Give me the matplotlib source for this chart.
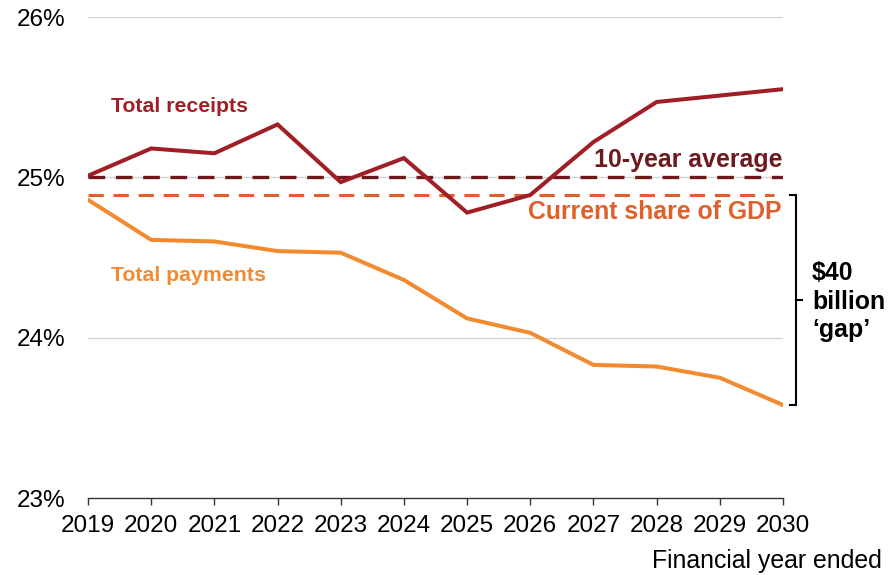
import matplotlib
matplotlib.use("Agg")
import matplotlib.pyplot as plt

plt.rcParams['font.family'] = ['Liberation Sans', 'DejaVu Sans']

years = [2019, 2020, 2021, 2022, 2023, 2024, 2025, 2026, 2027, 2028, 2029, 2030]
receipts = [25.01, 25.18, 25.15, 25.33, 24.97, 25.12, 24.78, 24.89, 25.22, 25.47, 25.51, 25.55]
payments = [24.86, 24.61, 24.60, 24.54, 24.53, 24.36, 24.12, 24.03, 23.83, 23.82, 23.75, 23.58]
ten_year_avg = 25.0
current_share = 24.89
yticks = [23, 24, 25, 26]
ytick_labels = ["23%", "24%", "25%", "26%"]

c_receipts = "#a01f26"
c_avg = "#6e1a1c"
c_share = "#e0602c"
c_pay = "#f28b30"

fig = plt.figure(figsize=(8.88, 5.75), dpi=100)
ax = fig.add_axes([88/888, 1-498/575, (783-88)/888, (498-17)/575])

ax.set_xlim(years[0], years[-1])
ax.set_ylim(23, 26)

for y in yticks[1:]:
    ax.axhline(y, color="#d4d4d4", lw=1.0, zorder=1)

ax.plot([years[0], years[-1]], [ten_year_avg]*2, color=c_avg, lw=2.4,
        dashes=(5, 3.2), zorder=2)
ax.plot([years[0], years[-1] - 0.15], [current_share]*2, color=c_share, lw=2.2,
        dashes=(5, 3.2), zorder=2)
ax.plot(years, receipts, color=c_receipts, lw=2.9, zorder=3, solid_joinstyle='miter')
ax.plot(years, payments, color=c_pay, lw=2.9, zorder=3, solid_joinstyle='miter')

ax.text(2019.37, 25.44, "Total receipts", color=c_receipts, fontsize=15.3,
        fontweight='bold', va='center', ha='left')
ax.text(2019.37, 24.385, "Total payments", color=c_pay, fontsize=15.3,
        fontweight='bold', va='center', ha='left')
ax.text(2030, 25.105, "10-year average", color=c_avg, fontsize=17.9,
        fontweight='bold', va='center', ha='right')
ax.text(2029.97, 24.785, "Current share of GDP", color=c_share, fontsize=17.9,
        fontweight='bold', va='center', ha='right')

# bracket
bx = 2030.21
top = current_share
bot = payments[-1]
ax.plot([bx - 0.1, bx, bx, bx - 0.1], [top, top, bot, bot], color="black",
        lw=1.5, clip_on=False, solid_joinstyle='miter')
mid = (top + bot) / 2
ax.plot([bx, bx + 0.09], [mid, mid], color="black", lw=1.5, clip_on=False)
ax.text(2030.46, mid - 0.01, "$40\nbillion\n\u2018gap\u2019", color="black",
        fontsize=17.9, fontweight='bold', va='center', ha='left', linespacing=1.22)

ax.set_xticks(years)
ax.set_xticklabels([str(y) for y in years], fontsize=17.5)
ax.set_yticks(yticks)
ax.set_yticklabels(ytick_labels, fontsize=17.5)
ax.tick_params(axis='y', length=0, pad=16)
ax.tick_params(axis='x', length=5, width=1, color="#333333", pad=7)

for s in ['top', 'right', 'left']:
    ax.spines[s].set_visible(False)
ax.spines['bottom'].set_color("#333333")
ax.spines['bottom'].set_linewidth(1.0)

fig.text(882/888, 1-561/575, "Financial year ended", fontsize=17.9,
         ha='right', va='center')

fig.savefig("out.png", dpi=100)
